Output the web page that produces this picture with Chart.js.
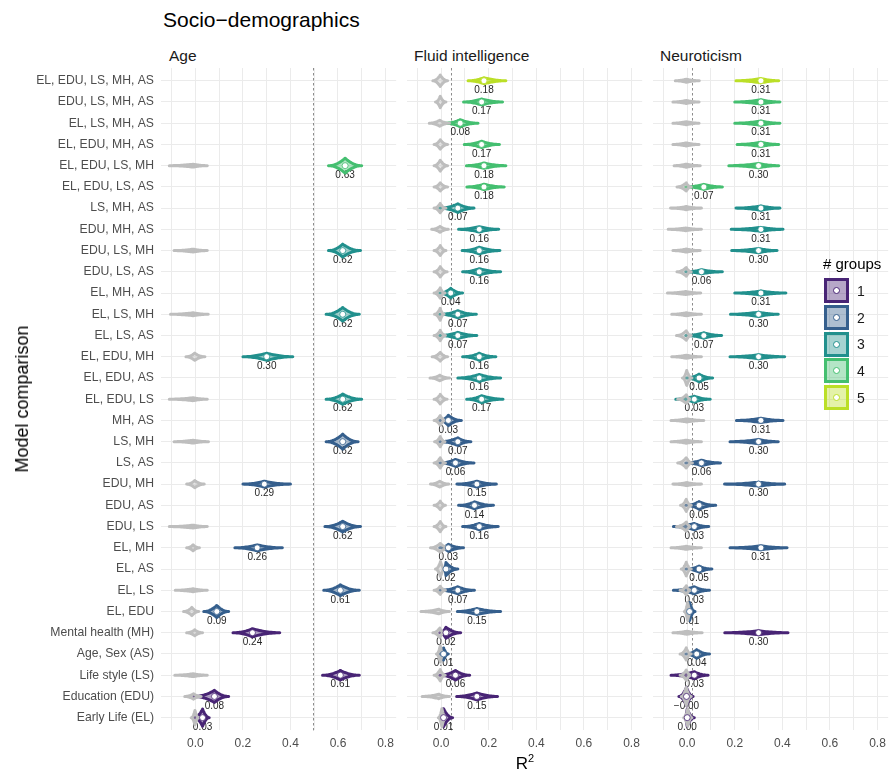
<!DOCTYPE html>
<html>
<head>
<meta charset="utf-8">
<script src="https://cdn.jsdelivr.net/npm/chart.js@4.4.1/dist/chart.umd.min.js"></script>
<style>
  html, body { margin: 0; padding: 0; background: #fff; }
  #page { position: relative; width: 889px; height: 776px; overflow: hidden;
          font-family: "Liberation Sans", Arial, Helvetica, sans-serif; }
  canvas { position: absolute; top: 0; }
  .txt { position: absolute; white-space: nowrap; line-height: 1; }
  .strip { font-size: 15.5px; color: #1A1A1A; top: 48px; }
  .key { position: absolute; left: 824px; width: 25px; height: 25px; box-sizing: border-box; border: 3px solid; }
  .key i { position: absolute; left: 50%; top: 50%; width: 7px; height: 7px; margin: -3.5px 0 0 -3.5px;
           box-sizing: border-box; border-radius: 50%; background: #fff; border: 1.4px solid; }
  .keylab { position: absolute; left: 857px; font-size: 14px; color: #1A1A1A; line-height: 1; }
</style>
</head>
<body>
<div id="page">
  <div class="txt" style="left:163px;top:9px;font-size:21px;color:#000;">Socio−demographics</div>
  <div class="txt strip" style="left:169px;">Age</div>
  <div class="txt strip" style="left:414px;">Fluid intelligence</div>
  <div class="txt strip" style="left:660px;">Neuroticism</div>

  <canvas id="cAge" width="400" height="776" style="left:0px;"></canvas>
  <canvas id="cFluid" width="246" height="776" style="left:400px;"></canvas>
  <canvas id="cNeuro" width="246" height="776" style="left:646px;"></canvas>

  <div class="txt" style="left:22px;top:399px;font-size:18px;color:#000;transform:translate(-50%,-50%) rotate(-90deg);">Model comparison</div>
  <div class="txt" style="left:525px;top:755px;font-size:17px;color:#000;transform:translateX(-50%);">R<sup style="font-size:11px;vertical-align:7px;line-height:0;">2</sup></div>

  <div class="txt" style="left:823px;top:256px;font-size:15px;color:#000;">#&nbsp;groups</div>
  <div id="legend"></div>
</div>

<script>
// ---- rows (top to bottom) ----
const rowLabels = [
  "EL, EDU, LS, MH, AS", "EDU, LS, MH, AS", "EL, LS, MH, AS", "EL, EDU, MH, AS", "EL, EDU, LS, MH",
  "EL, EDU, LS, AS", "LS, MH, AS", "EDU, MH, AS", "EDU, LS, MH", "EDU, LS, AS", "EL, MH, AS",
  "EL, LS, MH", "EL, LS, AS", "EL, EDU, MH", "EL, EDU, AS", "EL, EDU, LS", "MH, AS", "LS, MH",
  "LS, AS", "EDU, MH", "EDU, AS", "EDU, LS", "EL, MH", "EL, AS", "EL, LS", "EL, EDU",
  "Mental health (MH)", "Age, Sex (AS)", "Life style (LS)", "Education (EDU)", "Early Life (EL)"
];
const groupCount = [5,4,4,4,4,4,3,3,3,3,3,3,3,3,3,3,2,2,2,2,2,2,2,2,2,2,1,2,1,1,1];
const groupLabels = ["1", "2", "3", "4", "5"];
const groupColors = ["#482475", "#355F8D", "#21908D", "#44BF70", "#BBDF27"];

// ---- x axis ----
const xTickValues = [-0.1, 0, 0.1, 0.2, 0.3, 0.4, 0.5, 0.6, 0.7, 0.8];
const xTickLabels = ["", "0.0", "", "0.2", "", "0.4", "", "0.6", "", "0.8"];
const xRange = [-0.145, 0.845];

// ---- dashed reference R² per panel ----
const refLines = { Age: 0.495, Fluid: 0.04, Neuro: 0.02 };

// ---- Age: observed R² (median, range, relative peak density) ----
const N = null;
const ageMed  = [N,N,N,N,0.63,N,N,N,0.62,N,N,0.62,N,0.30,N,0.62,N,0.62,N,0.29,N,0.62,0.26,N,0.61,0.09,0.24,N,0.61,0.08,0.03];
const ageLo   = [N,N,N,N,0.56,N,N,N,0.56,N,N,0.55,N,0.20,N,0.55,N,0.55,N,0.20,N,0.545,0.166,N,0.54,0.035,0.158,N,0.535,-0.006,-0.006];
const ageHi   = [N,N,N,N,0.70,N,N,N,0.695,N,N,0.69,N,0.41,N,0.70,N,0.685,N,0.40,N,0.695,0.366,N,0.69,0.14,0.355,N,0.69,0.14,0.058];
const ageDens = [N,N,N,N,0.83,N,N,N,0.72,N,N,0.75,N,0.40,N,0.57,N,0.83,N,0.33,N,0.60,0.33,N,0.60,0.67,0.45,N,0.53,0.67,0.95];
// ---- Age: permutation (null) R² ----
const ageNullMed  = [N,N,N,N,-0.01,N,N,N,-0.01,N,N,-0.01,N,-0.003,N,-0.01,N,-0.01,N,-0.003,N,-0.01,-0.01,N,-0.01,-0.015,-0.003,N,-0.01,-0.008,-0.002];
const ageNullLo   = [N,N,N,N,-0.11,N,N,N,-0.09,N,N,-0.105,N,-0.04,N,-0.11,N,-0.09,N,-0.037,N,-0.11,-0.037,N,-0.085,-0.05,-0.037,N,-0.087,-0.045,-0.018];
const ageNullHi   = [N,N,N,N,0.05,N,N,N,0.05,N,N,0.054,N,0.04,N,0.05,N,0.055,N,0.037,N,0.05,0.017,N,0.05,0.014,0.03,N,0.05,0.024,0.014];
const ageNullDens = [N,N,N,N,0.16,N,N,N,0.16,N,N,0.16,N,0.40,N,0.16,N,0.16,N,0.40,N,0.16,0.33,N,0.16,0.45,0.33,N,0.16,0.30,0.80];

// ---- Fluid intelligence ----
const fluidMed  = [0.18,0.17,0.08,0.17,0.18,0.18,0.07,0.16,0.16,0.16,0.04,0.07,0.07,0.16,0.16,0.17,0.03,0.07,0.06,0.15,0.14,0.16,0.03,0.02,0.07,0.15,0.02,0.01,0.06,0.15,0.01];
const fluidLo   = [0.113,0.094,0.016,0.097,0.106,0.108,-0.006,0.073,0.088,0.09,-0.006,-0.006,-0.006,0.09,0.07,0.107,-0.006,-0.006,-0.006,0.066,0.073,0.09,-0.006,0.014,-0.006,0.068,-0.006,-0.006,-0.006,0.065,0.006];
const fluidHi   = [0.272,0.258,0.155,0.245,0.272,0.265,0.138,0.242,0.247,0.25,0.09,0.148,0.15,0.23,0.25,0.26,0.085,0.125,0.138,0.232,0.22,0.24,0.094,0.07,0.14,0.25,0.082,0.03,0.12,0.237,0.048];
const fluidDens = [0.33,0.33,0.39,0.35,0.30,0.30,0.48,0.30,0.37,0.35,0.53,0.39,0.35,0.39,0.39,0.39,0.57,0.42,0.39,0.33,0.39,0.35,0.39,0.72,0.39,0.33,0.61,0.67,0.53,0.39,1.0];
const fluidNullMed  = [-0.004,-0.004,-0.006,-0.004,-0.004,-0.004,-0.004,-0.005,-0.004,-0.004,-0.004,-0.004,-0.004,-0.004,-0.006,-0.004,-0.004,-0.004,-0.004,-0.006,-0.004,-0.004,-0.004,-0.003,-0.004,-0.01,-0.006,-0.004,-0.004,-0.01,0.003];
const fluidNullLo   = [-0.035,-0.024,-0.05,-0.03,-0.03,-0.03,-0.03,-0.04,-0.03,-0.03,-0.03,-0.028,-0.03,-0.038,-0.047,-0.03,-0.03,-0.028,-0.03,-0.045,-0.03,-0.03,-0.045,-0.024,-0.03,-0.085,-0.035,-0.02,-0.03,-0.08,-0.012];
const fluidNullHi   = [0.027,0.02,0.035,0.027,0.027,0.027,0.02,0.03,0.02,0.025,0.016,0.012,0.018,0.027,0.035,0.025,0.018,0.016,0.018,0.032,0.018,0.02,0.036,0.017,0.018,0.035,0.013,0.012,0.017,0.035,0.02];
const fluidNullDens = [0.63,0.63,0.33,0.52,0.60,0.45,0.52,0.33,0.55,0.57,0.57,0.67,0.57,0.48,0.31,0.53,0.53,0.57,0.57,0.33,0.47,0.57,0.48,0.83,0.45,0.25,0.52,0.90,0.63,0.25,1.0];

// ---- Neuroticism ----
const neuroMed  = [0.31,0.31,0.31,0.31,0.30,0.07,0.31,0.31,0.30,0.06,0.31,0.30,0.07,0.30,0.05,0.03,0.31,0.30,0.06,0.30,0.05,0.03,0.31,0.05,0.03,0.01,0.30,0.04,0.03,-0.003,0.00];
const neuroLo   = [0.205,0.2,0.2,0.21,0.175,-0.006,0.205,0.185,0.187,-0.006,0.2,0.182,-0.006,0.18,-0.006,-0.048,0.207,0.18,-0.006,0.157,-0.006,-0.058,0.18,-0.006,-0.058,0.003,0.158,-0.006,-0.068,-0.035,-0.01];
const neuroHi   = [0.385,0.39,0.39,0.385,0.385,0.148,0.39,0.403,0.378,0.148,0.415,0.383,0.145,0.41,0.107,0.097,0.403,0.383,0.14,0.41,0.12,0.091,0.42,0.104,0.094,0.033,0.424,0.094,0.088,0.025,0.03];
const neuroDens = [0.24,0.24,0.24,0.24,0.24,0.28,0.24,0.22,0.24,0.22,0.22,0.24,0.30,0.22,0.42,0.33,0.24,0.24,0.30,0.22,0.42,0.35,0.22,0.33,0.39,1.0,0.22,0.48,0.39,1.0,0.95];
const neuroNullMed  = [-0.004,-0.004,-0.004,-0.004,-0.004,-0.004,-0.004,-0.006,-0.004,-0.004,-0.006,-0.004,-0.004,-0.004,-0.002,-0.004,-0.002,-0.004,-0.004,-0.002,-0.004,-0.004,-0.004,-0.004,-0.004,0.002,-0.002,-0.004,-0.004,-0.004,0.002];
const neuroNullLo   = [-0.05,-0.06,-0.06,-0.06,-0.055,-0.043,-0.07,-0.08,-0.06,-0.043,-0.083,-0.065,-0.045,-0.065,-0.02,-0.04,-0.068,-0.068,-0.04,-0.06,-0.028,-0.045,-0.068,-0.025,-0.03,-0.012,-0.06,-0.03,-0.03,-0.025,-0.015];
const neuroNullHi   = [0.051,0.05,0.05,0.05,0.055,0.017,0.06,0.06,0.055,0.017,0.057,0.06,0.017,0.06,0.02,0.017,0.07,0.06,0.022,0.06,0.017,0.017,0.06,0.017,0.015,0.017,0.063,0.017,0.017,0.017,0.02];
const neuroNullDens = [0.17,0.17,0.17,0.17,0.17,0.45,0.17,0.15,0.17,0.48,0.17,0.17,0.52,0.17,0.83,0.48,0.17,0.17,0.57,0.17,0.67,0.50,0.17,0.76,0.50,1.0,0.17,0.67,0.57,1.0,0.95];

const panels = {
  cAge:   { ref: refLines.Age,   med: ageMed,   lo: ageLo,   hi: ageHi,   dens: ageDens,
            nMed: ageNullMed,   nLo: ageNullLo,   nHi: ageNullHi,   nDens: ageNullDens },
  cFluid: { ref: refLines.Fluid, med: fluidMed, lo: fluidLo, hi: fluidHi, dens: fluidDens,
            nMed: fluidNullMed, nLo: fluidNullLo, nHi: fluidNullHi, nDens: fluidNullDens },
  cNeuro: { ref: refLines.Neuro, med: neuroMed, lo: neuroLo, hi: neuroHi, dens: neuroDens,
            nMed: neuroNullMed, nLo: neuroNullLo, nHi: neuroNullHi, nDens: neuroNullDens }
};

const FONT = '"Liberation Sans", Arial, Helvetica, sans-serif';
const MAX_HALF = 9;          // px half-height of the densest violin
const NULL_GREY = "#BEBEBE";

function rgba(hex, a) {
  const n = parseInt(hex.slice(1), 16);
  return `rgba(${(n >> 16) & 255},${(n >> 8) & 255},${n & 255},${a})`;
}
function fmt(v) { return v.toFixed(2).replace("-", "\u2212"); }

// horizontal violin outline around a median, tapering towards lo / hi
function violinPath(ctx, xs, yc, lo, med, hi, dens) {
  const xl = xs.getPixelForValue(lo), xm = xs.getPixelForValue(med), xr = xs.getPixelForValue(hi);
  const H = dens * MAX_HALF, steps = 16, pts = [];
  const prof = u => H * Math.pow(Math.max(0, 1 - u), 2.0);
  for (let i = 0; i <= steps; i++) { const x = xl + (xm - xl) * i / steps; pts.push([x, prof(1 - i / steps)]); }
  for (let i = 1; i <= steps; i++) { const x = xm + (xr - xm) * i / steps; pts.push([x, prof(i / steps)]); }
  ctx.beginPath();
  pts.forEach(([x, h], i) => i ? ctx.lineTo(x, yc - h) : ctx.moveTo(x, yc - h));
  for (let i = pts.length - 1; i >= 0; i--) ctx.lineTo(pts[i][0], yc + pts[i][1]);
  ctx.closePath();
}

const violinPlugin = {
  id: "violins",
  beforeDatasetsDraw(chart) {
    const p = panels[chart.canvas.id];
    const ctx = chart.ctx, xs = chart.scales.x, ys = chart.scales.y, area = chart.chartArea;
    ctx.save();
    // dashed reference line
    const xr = Math.round(xs.getPixelForValue(p.ref)) + 0.5;
    ctx.strokeStyle = "#5A5A5A"; ctx.lineWidth = 0.7; ctx.setLineDash([2.5, 2.5]);
    ctx.beginPath(); ctx.moveTo(xr, area.top); ctx.lineTo(xr, area.bottom); ctx.stroke();
    ctx.setLineDash([]);
    // value labels under each observed violin
    ctx.font = `10px ${FONT}`; ctx.fillStyle = "#262626"; ctx.textAlign = "center"; ctx.textBaseline = "middle";
    p.med.forEach((m, r) => { if (m !== null) ctx.fillText(fmt(m), xs.getPixelForValue(m), ys.getPixelForValue(r) + 9.5); });
    ctx.lineJoin = "round"; ctx.lineCap = "round"; ctx.lineWidth = 3;
    // observed violins
    p.med.forEach((m, r) => {
      if (m === null) return;
      const col = groupColors[groupCount[r] - 1];
      violinPath(ctx, xs, ys.getPixelForValue(r), p.lo[r], m, p.hi[r], p.dens[r]);
      ctx.fillStyle = rgba(col, 0.4); ctx.fill();
      ctx.strokeStyle = col; ctx.stroke();
    });
    // permutation violins on top
    p.nMed.forEach((m, r) => {
      if (m === null) return;
      violinPath(ctx, xs, ys.getPixelForValue(r), p.nLo[r], m, p.nHi[r], p.nDens[r]);
      ctx.fillStyle = rgba(NULL_GREY, 0.4); ctx.fill();
      ctx.strokeStyle = NULL_GREY; ctx.stroke();
    });
    ctx.restore();
  }
};

function makePanel(id, opts) {
  const p = panels[id];
  const pts = [], cols = [];
  p.med.forEach((m, r) => { if (m !== null) { pts.push({ x: m, y: r }); cols.push(groupColors[groupCount[r] - 1]); } });
  return new Chart(document.getElementById(id), {
    type: "scatter",
    data: { datasets: [{ data: pts, pointRadius: 3, pointHoverRadius: 3, pointBackgroundColor: "#fff",
                         pointBorderColor: cols, pointBorderWidth: 0.8 }] },
    options: {
      responsive: false, animation: false, events: [],
      layout: { padding: { top: 68, bottom: 0, left: opts.padLeft, right: opts.padRight } },
      plugins: { legend: { display: false }, tooltip: { enabled: false } },
      scales: {
        x: {
          type: "linear", min: xRange[0], max: xRange[1],
          afterBuildTicks: s => { s.ticks = xTickValues.map(v => ({ value: v })); },
          afterFit: s => { s.height = 45.6; },
          ticks: { callback: (v, i) => xTickLabels[i], padding: 6, color: "#4D4D4D",
                   font: { family: FONT, size: 12 }, maxRotation: 0, autoSkip: false },
          grid: { color: "#EBEBEB", lineWidth: 1, drawTicks: false },
          border: { display: false }
        },
        y: {
          type: "linear", reverse: true, min: -0.6, max: rowLabels.length - 0.4,
          afterBuildTicks: s => { s.ticks = rowLabels.map((_, i) => ({ value: i })); },
          afterFit: s => { s.width = opts.yWidth; },
          ticks: { display: opts.showY, callback: v => rowLabels[v], padding: 7, color: "#4D4D4D",
                   font: { family: FONT, size: 12.2 }, autoSkip: false },
          grid: { color: "#EBEBEB", lineWidth: 1, drawTicks: false },
          border: { display: false }
        }
      }
    },
    plugins: [violinPlugin]
  });
}

makePanel("cAge",   { padLeft: 0,   padRight: 0,   yWidth: 161, showY: true });
makePanel("cFluid", { padLeft: 6.7, padRight: 0.5, yWidth: 0,   showY: false });
makePanel("cNeuro", { padLeft: 6.7, padRight: 0,   yWidth: 0,   showY: false });

// legend for number of groups
const legend = document.getElementById("legend");
groupLabels.forEach((lab, i) => {
  const top = 278.3 + i * 26.7, col = groupColors[i];
  const k = document.createElement("div");
  k.className = "key";
  k.style.top = top + "px"; k.style.borderColor = col; k.style.background = rgba(col, 0.4);
  const dot = document.createElement("i"); dot.style.borderColor = col; k.appendChild(dot);
  legend.appendChild(k);
  const t = document.createElement("div");
  t.className = "keylab"; t.style.top = (top + 5.6) + "px"; t.textContent = lab;
  legend.appendChild(t);
});
</script>
</body>
</html>
